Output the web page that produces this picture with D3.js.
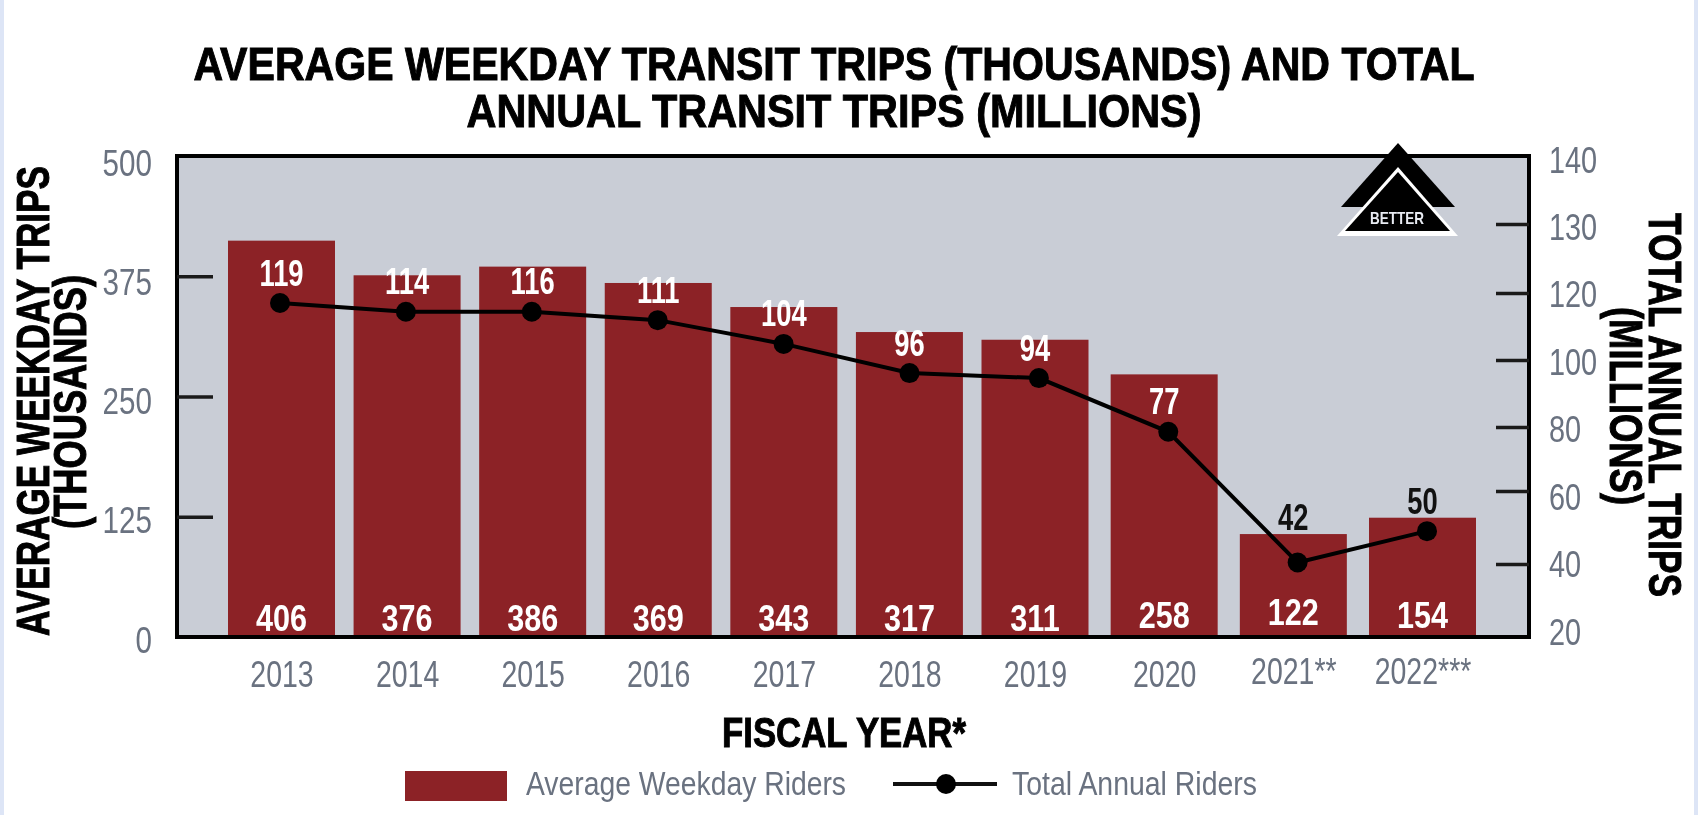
<!DOCTYPE html>
<html>
<head>
<meta charset="utf-8">
<script src="https://cdnjs.cloudflare.com/ajax/libs/d3/7.8.5/d3.min.js"></script>
<style>
html,body{margin:0;padding:0;background:#fff;overflow:hidden}
svg{display:block;filter:blur(0.7px)}
text{font-family:"Liberation Sans",Arial,sans-serif}
</style>
</head>
<body>
<div id="chart"></div>
<script>
// Categories and printed labels
const years = ["2013","2014","2015","2016","2017","2018","2019","2020","2021**","2022***"];
const weekdayLabels = [406,376,386,369,343,317,311,258,122,154];
const annualLabels = [119,114,116,111,104,96,94,77,42,50];
// Heights as the picture draws them (they differ slightly from the printed labels)
const weekdayDrawn = [412,376,385,368,343,317,309,273,107,124];
const annualDrawn = [117,114.4,114.4,111.9,104.8,96.1,94.6,78.5,40.4,49];
// Axis ticks
const leftTicks = [0,125,250,375,500];
const rightTicks = [20,40,60,80,100,120,130,140];

const W = 1698, H = 815;
const plot = {left:177, right:1529, top:156, bottom:637};
const svg = d3.select("#chart").append("svg").attr("width",W).attr("height",H);

const barColor = "#8c2226", plotBg = "#c9cdd6", tickText = "#6a7280", ink = "#000";

// Scales: the reference's columns are not perfectly evenly spaced, so x is piecewise linear
const idx = d3.range(years.length);
const xBar = d3.scaleLinear().domain([0,6,9]).range([281.5,1035,1422.5]);
const xDot = d3.scaleLinear().domain([0,5,9]).range([280,909.5,1427]);
const yLeft = d3.scaleLinear().domain([0,500]).range([plot.bottom,plot.top]);
const yRight = d3.scaleLinear().domain(rightTicks).range([637,564,491,427,360,293,224,156]);
const yLeftLabel = d3.scalePoint().domain(leftTicks).range([652,175]);
const yRightLabel = d3.scalePoint().domain(rightTicks).range([644,172]);
const barW = 107;

// Squeeze text horizontally, since the reference uses a condensed face
const squeeze = (sel,f) => sel.each(function(){
  const n = this.getComputedTextLength();
  d3.select(this).attr("textLength",n*f).attr("lengthAdjust","spacingAndGlyphs");
});
const fitTo = (sel,w) => sel.attr("textLength",w).attr("lengthAdjust","spacingAndGlyphs");
const heavy = (sel,w,c) => sel.attr("stroke",c).attr("stroke-width",w).attr("paint-order","stroke");

// Page edges
svg.append("rect").attr("x",0).attr("y",0).attr("width",4).attr("height",H).attr("fill","#dde5f6");
svg.append("rect").attr("x",1694).attr("y",0).attr("width",4).attr("height",H).attr("fill","#dde5f6");

// Title
const title = ["AVERAGE WEEKDAY TRANSIT TRIPS (THOUSANDS) AND TOTAL","ANNUAL TRANSIT TRIPS (MILLIONS)"];
svg.selectAll(".title").data(title).join("text").attr("class","title")
  .attr("x",834).attr("y",(d,i)=>i?127:80).attr("text-anchor","middle")
  .attr("font-size",47).attr("font-weight",700).attr("fill",ink).text(d=>d)
  .call(heavy,1,ink)
  .each(function(d,i){ fitTo(d3.select(this), i?735:1281); });

// Plot background
svg.append("rect").attr("x",plot.left).attr("y",plot.top)
  .attr("width",plot.right-plot.left).attr("height",plot.bottom-plot.top).attr("fill",plotBg);

// Bars
svg.selectAll(".bar").data(idx).join("rect").attr("class","bar")
  .attr("x",i=>xBar(i)-barW/2).attr("width",barW)
  .attr("y",i=>yLeft(weekdayDrawn[i]))
  .attr("height",i=>yLeft(0)-yLeft(weekdayDrawn[i]))
  .attr("fill",barColor);

// Frame and inward ticks
svg.append("rect").attr("x",plot.left).attr("y",plot.top)
  .attr("width",plot.right-plot.left).attr("height",plot.bottom-plot.top)
  .attr("fill","none").attr("stroke",ink).attr("stroke-width",4);

const tickStyle = g => { g.select(".domain").remove();
  g.selectAll(".tick line").attr("stroke","#1a1a1a").attr("stroke-width",3.6); };
svg.append("g").attr("transform",`translate(${plot.left},0)`)
  .call(d3.axisLeft(yLeft).tickValues(leftTicks.slice(1,-1)).tickSize(-36).tickFormat(""))
  .call(tickStyle);
svg.append("g").attr("transform",`translate(${plot.right},0)`)
  .call(d3.axisRight(yRight).tickValues(rightTicks.slice(1,-1)).tickSize(-33).tickFormat(""))
  .call(tickStyle);

// Tick labels through axes
const labelStyle = (g,f) => { g.select(".domain").remove(); g.selectAll("line").remove();
  g.selectAll("text").attr("dy",0).attr("font-size",37).attr("fill",tickText).call(squeeze,f); };
svg.append("g").attr("transform","translate(152,0)")
  .call(d3.axisLeft(yLeftLabel).tickSize(0).tickPadding(0)).attr("font-size",null).attr("font-family",null)
  .call(labelStyle,0.8);
svg.append("g").attr("transform","translate(1549,0)")
  .call(d3.axisRight(yRightLabel).tickSize(0).tickPadding(0)).attr("font-size",null).attr("font-family",null)
  .call(labelStyle,0.78);
svg.append("g")
  .call(d3.axisBottom(xBar).tickValues(idx).tickFormat(i=>years[i]).tickSize(0).tickPadding(0))
  .attr("font-size",null).attr("font-family",null)
  .call(g=>{ g.select(".domain").remove(); g.selectAll("line").remove();
    g.selectAll("text").attr("dy",0).attr("y",i=>i>=8?684:687).attr("font-size",37).attr("fill",tickText)
     .call(squeeze,0.77); });

// Line and dots
const line = d3.line().x(i=>xDot(i)).y(i=>yRight(annualDrawn[i]));
svg.append("path").datum(idx).attr("d",line).attr("fill","none").attr("stroke",ink).attr("stroke-width",4);
svg.selectAll(".dot").data(idx).join("circle").attr("class","dot")
  .attr("cx",i=>xDot(i)).attr("cy",i=>yRight(annualDrawn[i])).attr("r",10).attr("fill",ink);

// Data labels
svg.selectAll(".annual").data(idx).join("text").attr("class","annual")
  .attr("x",i=>xBar(i)).attr("y",i=>yRight(annualDrawn[i])-(i===8?33:17.5))
  .attr("text-anchor","middle").attr("font-size",36).attr("font-weight",700)
  .attr("fill",i=>i>=8?"#111":"#fff").text(i=>annualLabels[i]).call(squeeze,0.76);
const bottomNudge = {7:3.5,8:6,9:3.5};
svg.selectAll(".weekday").data(idx).join("text").attr("class","weekday")
  .attr("x",i=>xBar(i)).attr("y",i=>631-(bottomNudge[i]||0))
  .attr("text-anchor","middle").attr("font-size",36).attr("font-weight",700)
  .attr("fill","#fff").text(i=>weekdayLabels[i]).call(squeeze,0.85);

// "Better" arrow
const tri = (a,by,l,r)=>`M${a[0]},${a[1]}L${r},${by}L${l},${by}Z`;
const arrow = svg.append("g");
arrow.append("path").attr("d",tri([1398,143],207,1341,1455)).attr("fill","#000");
arrow.append("path").attr("d",tri([1398,167],236,1337,1458)).attr("fill","#fff");
arrow.append("path").attr("d",tri([1398,172],231,1345,1450)).attr("fill","#000");
arrow.append("text").attr("x",1397).attr("y",224).attr("text-anchor","middle")
  .attr("font-size",17).attr("font-weight",700).attr("fill","#e8ebf2").text("BETTER").call(fitTo,54);

// Axis titles
const rot = (x,y,a)=>`translate(${x},${y}) rotate(${a})`;
const vTitle = (txt,x,y,a,len)=> svg.append("text").attr("transform",rot(x,y,a))
  .attr("text-anchor","middle").attr("font-size",46).attr("font-weight",700).attr("fill",ink)
  .text(txt).call(heavy,1,ink).call(fitTo,len);
vTitle("AVERAGE WEEKDAY TRIPS",49,401,-90,470);
vTitle("(THOUSANDS)",86,402,-90,254);
vTitle("TOTAL ANNUAL TRIPS",1649,405,90,384);
vTitle("(MILLIONS)",1610,406,90,198);

svg.append("text").attr("x",844).attr("y",747).attr("text-anchor","middle")
  .attr("font-size",42).attr("font-weight",700).attr("fill",ink).text("FISCAL YEAR*").call(heavy,1,ink).call(fitTo,244);

// Legend
svg.append("rect").attr("x",405).attr("y",771).attr("width",102).attr("height",30).attr("fill",barColor);
svg.append("text").attr("x",526).attr("y",795).attr("font-size",34).attr("fill",tickText)
  .text("Average Weekday Riders").call(fitTo,320);
svg.append("line").attr("x1",893).attr("x2",997).attr("y1",784).attr("y2",784).attr("stroke","#111").attr("stroke-width",4);
svg.append("circle").attr("cx",946).attr("cy",784).attr("r",10).attr("fill",ink);
svg.append("text").attr("x",1012).attr("y",795).attr("font-size",34).attr("fill",tickText)
  .text("Total Annual Riders").call(fitTo,245);
</script>
</body>
</html>
